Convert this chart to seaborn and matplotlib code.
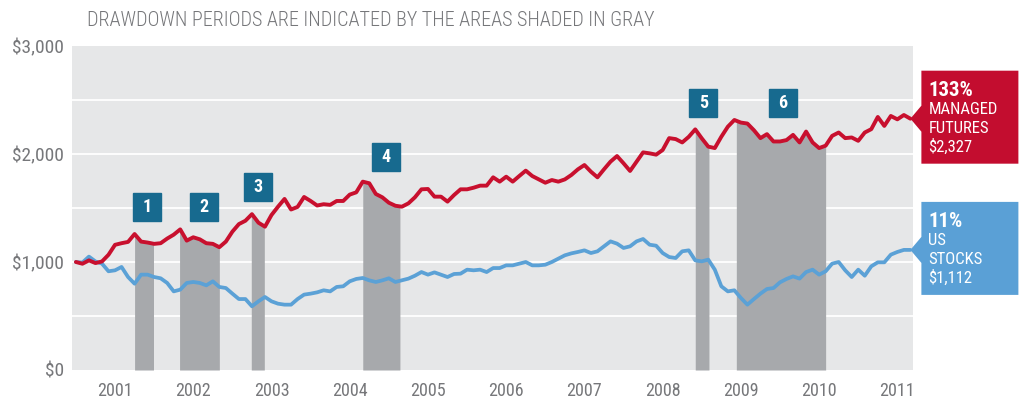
import numpy as np
import pandas as pd
import seaborn as sns
import matplotlib.pyplot as plt
from matplotlib.patches import Polygon

# growth of $1,000, monthly from Jul 2000 to Mar 2011
start_year = 2000.5
managed_futures = [
    1000, 984, 1015, 990, 1005, 1067, 1159, 1174, 1186, 1259, 1189, 1180,
    1168, 1174, 1217, 1253, 1302, 1198, 1229, 1210, 1174, 1168, 1137, 1189,
    1281, 1351, 1382, 1443, 1364, 1327, 1435, 1512, 1584, 1486, 1510, 1602,
    1565, 1523, 1535, 1529, 1565, 1565, 1624, 1645, 1744, 1729, 1630, 1599,
    1549, 1521, 1512, 1543, 1599, 1673, 1676, 1605, 1605, 1559, 1620, 1673,
    1673, 1688, 1707, 1707, 1784, 1744, 1790, 1744, 1796, 1846, 1796, 1765,
    1734, 1759, 1744, 1765, 1806, 1858, 1898, 1836, 1784, 1858, 1929, 1981,
    1914, 1843, 1929, 2015, 2006, 1994, 2037, 2147, 2138, 2107, 2159, 2228,
    2145, 2068, 2055, 2160, 2253, 2315, 2291, 2282, 2220, 2147, 2184, 2116,
    2116, 2129, 2177, 2107, 2208, 2107, 2055, 2077, 2168, 2199, 2147, 2153,
    2122, 2199, 2230, 2343, 2260, 2352, 2321, 2361, 2327,
]
us_stocks = [
    1000, 995, 1050, 1005, 985, 914, 923, 954, 861, 799, 883, 883,
    861, 849, 806, 728, 744, 806, 815, 806, 784, 821, 769, 759,
    707, 657, 657, 590, 636, 676, 636, 614, 605, 605, 657, 698,
    707, 719, 738, 728, 769, 775, 821, 843, 852, 830, 815, 830,
    849, 815, 830, 846, 873, 907, 883, 904, 883, 861, 889, 892,
    929, 923, 929, 907, 944, 944, 969, 969, 985, 1000, 969, 969,
    975, 1000, 1031, 1062, 1080, 1093, 1108, 1083, 1099, 1145, 1191, 1170,
    1130, 1145, 1191, 1213, 1160, 1151, 1083, 1046, 1037, 1099, 1108, 1015,
    1006, 1022, 929, 775, 728, 738, 667, 605, 657, 707, 750, 759,
    812, 843, 867, 846, 907, 929, 883, 914, 985, 1000, 923, 861,
    929, 873, 960, 997, 997, 1068, 1093, 1112, 1112,
]

# drawdown periods (months after Jul 2000)
dd_start = [9.0, 15.9, 26.9, 44.0, 95.0, 101.3]
dd_end = [11.9, 22.0, 28.9, 49.7, 97.1, 115.0]
dd_labels = ['1', '2', '3', '4', '5', '6']
# where the numbered boxes sit (year, value)
box_x = [2001.41, 2002.14, 2002.83, 2004.46, 2008.52, 2009.54]
box_y = [1512, 1512, 1697, 1969, 2469, 2469]

years = list(range(2001, 2012))
y_ticks = [0, 1000, 2000, 3000]

RED = '#c8102e'
BLUE = '#5ba1d6'
TEAL = '#176a8f'
TXT = '#76777a'

sns.set_theme(style='white')
plt.rcParams['font.family'] = ['Roboto Condensed', 'Liberation Sans Narrow', 'Roboto', 'DejaVu Sans']

W, H = 1025, 401
fig = plt.figure(figsize=(W / 100, H / 100), dpi=100)
ax = fig.add_axes([72 / W, 1 - 370 / H, (913 - 72) / W, (370 - 46) / H])
ax.set_facecolor('#e6e7e8')

months = np.arange(len(managed_futures))
df = pd.DataFrame({
    'year': start_year + months / 12,
    'mf': managed_futures,
    'stocks': us_stocks,
})

for v in range(500, 3000, 500):
    ax.axhline(v, color='white', lw=1.3, zorder=1)

# gray drawdown areas, up to the managed futures line
for s, e in zip(dd_start, dd_end):
    mm = np.linspace(s, e, 80)
    ax.fill_between(start_year + mm / 12, 0, np.interp(mm, months, managed_futures),
                    color='#a7a9ac', lw=0, zorder=2)

sns.lineplot(data=df, x='year', y='stocks', color=BLUE, lw=2.7, ax=ax, zorder=3)
sns.lineplot(data=df, x='year', y='mf', color=RED, lw=2.8, ax=ax, zorder=4)

# numbered boxes
ax.plot(box_x, box_y, 's', ms=19.5, color=TEAL, zorder=5, clip_on=False)
for bx, by, lab in zip(box_x, box_y, dd_labels):
    ax.text(bx, by, lab, color='white', fontsize=13, fontweight='bold',
            ha='center', va='center', zorder=6)

ax.set_xlim(2000.45, 2011.2)
ax.set_ylim(0, 3000)
ax.set_xticks(years)
ax.set_xticklabels([str(y) for y in years])
ax.set_yticks(y_ticks)
ax.set_yticklabels([f'${v:,}' for v in y_ticks])
ax.tick_params(axis='both', length=0, labelcolor=TXT, labelsize=14)
ax.tick_params(axis='x', pad=9, labelsize=13)
ax.tick_params(axis='y', pad=6)
ax.set_xlabel('')
ax.set_ylabel('')
for sp in ax.spines.values():
    sp.set_visible(False)

fig.text(87 / W, 1 - 21 / H, 'DRAWDOWN PERIODS ARE INDICATED BY THE AREAS SHADED IN GRAY',
         color=TXT, fontsize=14.5, fontweight='light', va='center', ha='left')


# callout boxes pointing at the end of each line
def callout(series, color, name_lines):
    tip = ax.transData.transform((df['year'].iloc[-1], series[-1]))
    tx, ty = tip[0], tip[1]
    pts = [(tx, ty), (tx + 11, ty + 13), (tx + 11, ty + 48), (tx + 108, ty + 48),
           (tx + 108, ty - 45), (tx + 11, ty - 45), (tx + 11, ty - 13)]
    pts = [(px / W, py / H) for px, py in pts]
    fig.add_artist(Polygon(pts, closed=True, color=color, transform=fig.transFigure, lw=0))
    pct = round((series[-1] / series[0] - 1) * 100)
    lx = (tx + 18) / W
    fig.text(lx, (ty + 23) / H, f'{pct}%', color='white', fontsize=15,
             fontweight='bold', va='baseline', ha='left')
    for k, line in enumerate(name_lines + [f'${series[-1]:,}']):
        fig.text(lx, (ty + 5 - 19 * k) / H, line, color='white', fontsize=12,
                 va='baseline', ha='left')


callout(managed_futures, '#c30d2f', ['MANAGED', 'FUTURES'])
callout(us_stocks, '#5aa0d6', ['US', 'STOCKS'])

fig.savefig('out.png', dpi=100)
